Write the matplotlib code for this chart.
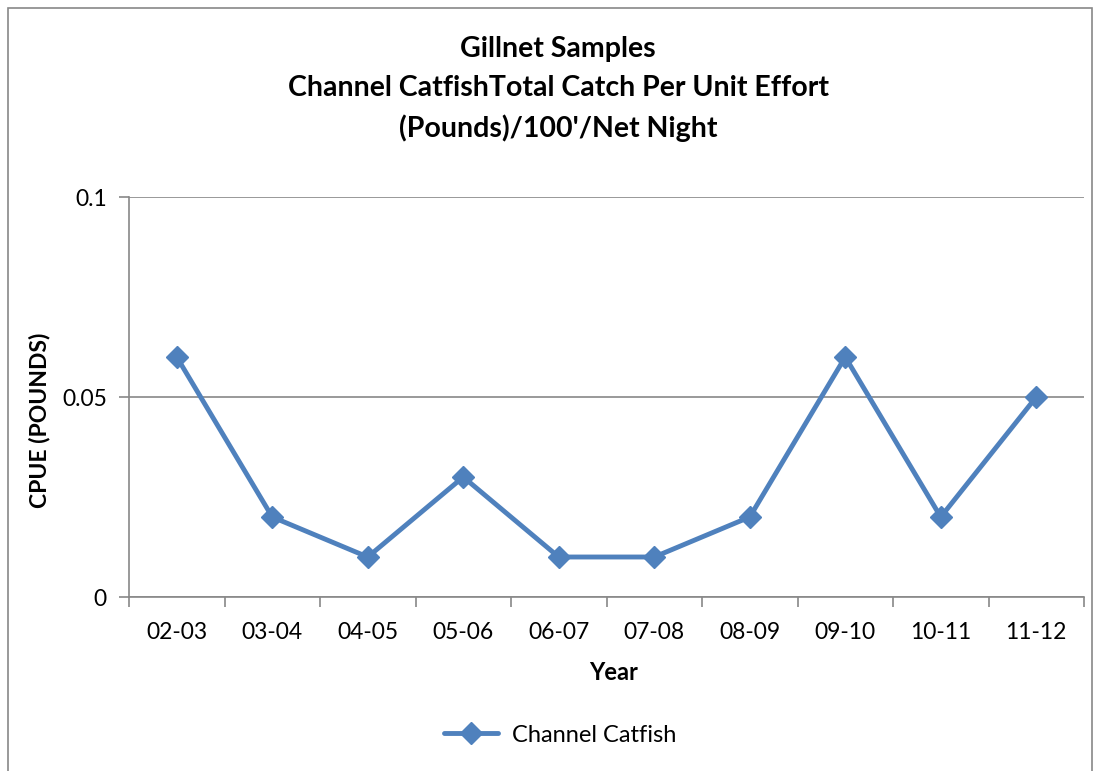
import matplotlib
matplotlib.use("Agg")
import matplotlib.pyplot as plt
from matplotlib.patches import Rectangle

years = ["02-03", "03-04", "04-05", "05-06", "06-07", "07-08", "08-09", "09-10", "10-11", "11-12"]
cpue = [0.06, 0.02, 0.01, 0.03, 0.01, 0.01, 0.02, 0.06, 0.02, 0.05]
yticks = [0, 0.05, 0.1]
ytick_labels = ["0", "0.05", "0.1"]
series_name = "Channel Catfish"
title = "Gillnet Samples\nChannel CatfishTotal Catch Per Unit Effort\n(Pounds)/100'/Net Night"

plt.rcParams['font.family'] = ['Lato', 'DejaVu Sans']
W, H = 1099, 771
fig = plt.figure(figsize=(W / 100, H / 100), dpi=100)
# outer chart border
fig.add_artist(Rectangle((8 / W, -0.05), (1092 - 8) / W, 1.05 - 8 / H,
                         transform=fig.transFigure, fill=False, edgecolor='#888888', lw=1.2))

ax = fig.add_axes([129 / W, 1 - 597 / H, (1084 - 129) / W, (597 - 197) / H])
x = list(range(len(years)))
ax.plot(x, cpue, color='#4F81BD', lw=3.5, marker='D', markersize=11, label=series_name,
        solid_joinstyle='round', solid_capstyle='round')
ax.set_xlim(-0.5, len(years) - 0.5)
ax.set_ylim(0, 0.1)
ax.set_yticks(yticks)
ax.set_yticklabels(ytick_labels)
ax.set_xticks(x)
ax.set_xticklabels(years)
ax.set_xticks([i - 0.5 for i in range(len(years) + 1)], minor=True)
ax.tick_params(axis='x', which='major', length=0, labelsize=16.5, pad=18)
ax.tick_params(axis='x', which='minor', length=7, color='#888888', width=1.2, direction='out')
ax.tick_params(axis='y', length=7, color='#888888', width=1.2, labelsize=16.5, pad=9)
for s in ['top', 'right']:
    ax.spines[s].set_visible(False)
for s in ['left', 'bottom']:
    ax.spines[s].set_color('#888888')
    ax.spines[s].set_linewidth(1.2)
ax.grid(axis='y', color='#888888', lw=1.2)
ax.set_axisbelow(True)

ax.set_xlabel("Year", fontsize=17, fontweight='bold', va='center')
ax.xaxis.set_label_coords((614 - 129) / 955, (597 - 672) / 400)
ax.set_ylabel("CPUE (POUNDS)", fontsize=16.5, fontweight='bold', va='center')
ax.yaxis.set_label_coords((40 - 129) / 955, (597 - 420) / 400)
fig.text(558 / W, 1 - 89 / H, title, ha='center', va='center', fontsize=20.5,
         fontweight='bold', linespacing=1.6)
fig.legend(loc='center', bbox_to_anchor=(560 / W, 1 - 735 / H), frameon=False,
           fontsize=17, handlelength=2.3, handletextpad=0.6, markerscale=1.0)

fig.savefig("out.png", dpi=100)
